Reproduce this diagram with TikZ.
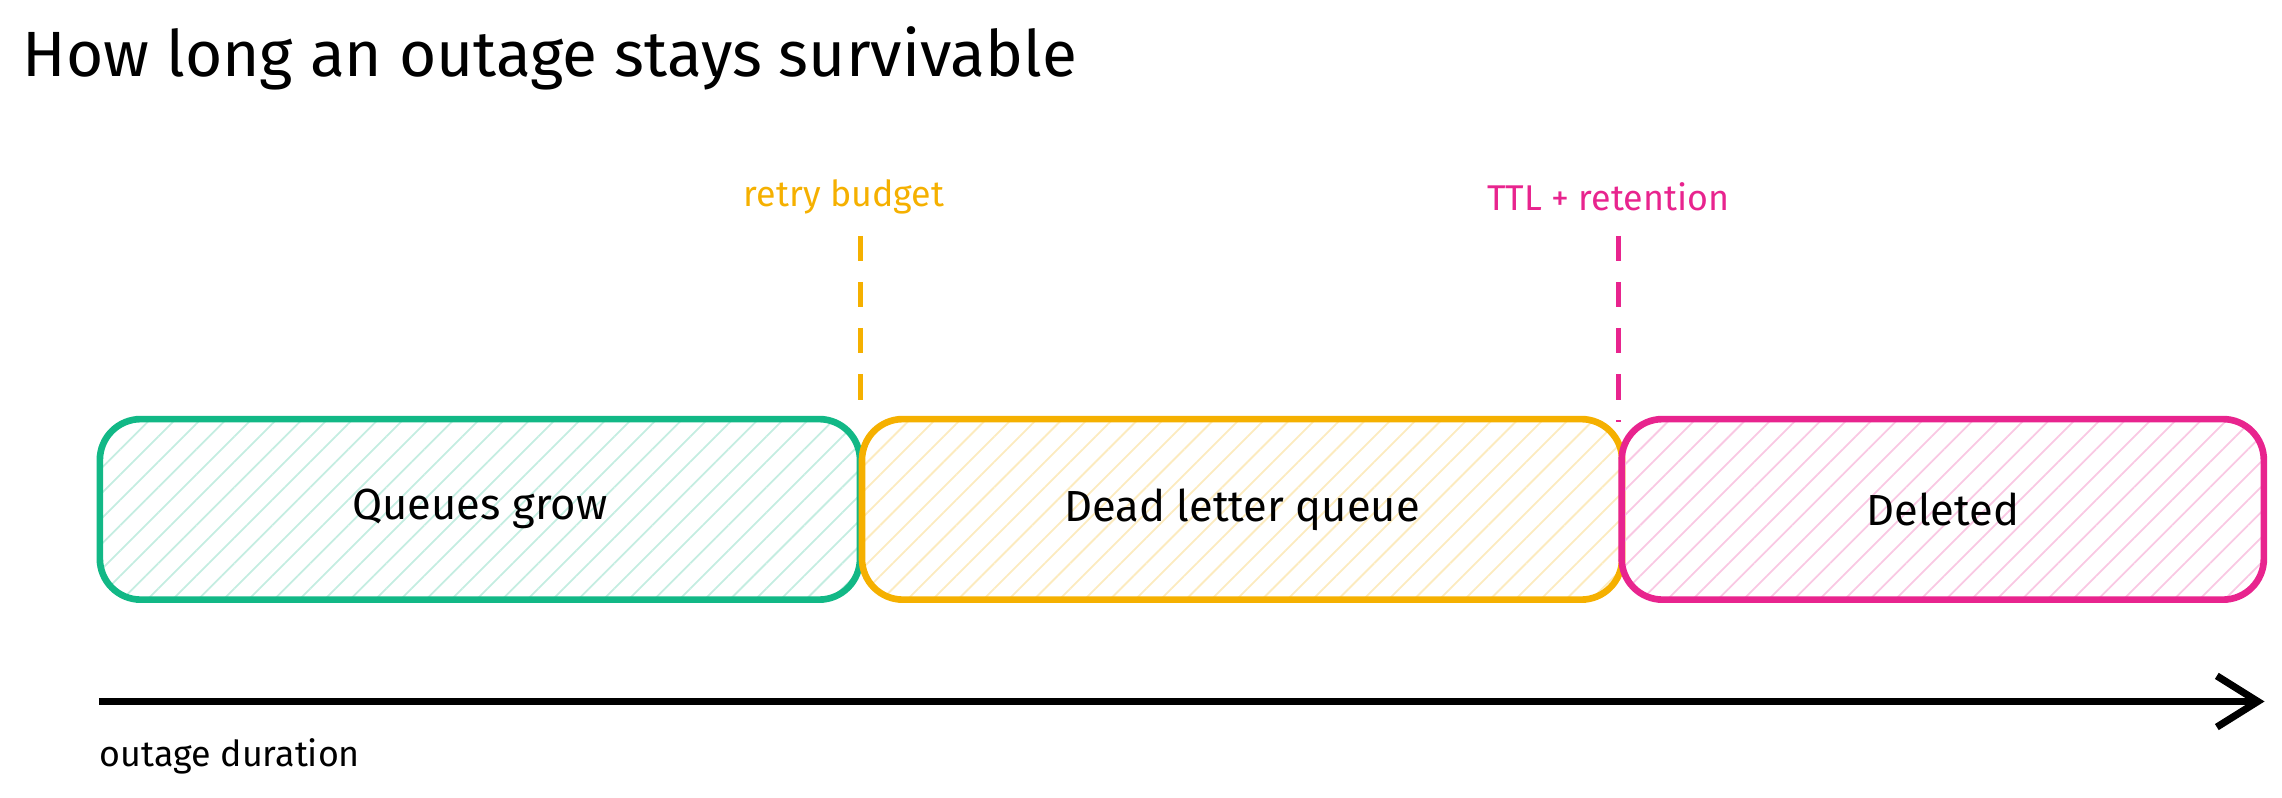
\documentclass[tikz,border=0pt]{standalone}
\usepackage{fontspec}
\setmainfont{Fira Sans}
\usetikzlibrary{positioning,patterns.meta,arrows.meta}
\definecolor{grn}{HTML}{12B886}
\definecolor{org}{HTML}{F5B000}
\definecolor{pnk}{HTML}{E8248E}
\begin{document}
\begin{tikzpicture}[x=0.01cm,y=-0.01cm,
    stage/.style={draw=#1,line width=1.3pt,rounded corners=8pt,minimum height=1.24cm,
      pattern={Lines[angle=45,distance=3.5pt,line width=0.35pt]},pattern color=#1!25,
      font=\fontsize{8.5}{10}\selectfont,anchor=west,inner sep=0pt},
    mark/.style={draw=#1,line width=1pt,dash pattern=on 5pt off 4pt},
    budget/.style={text=#1,font=\fontsize{7}{8}\selectfont}]
  \useasboundingbox (0,0) rectangle (1568,548);
  \node[anchor=west,font=\fontsize{12.5}{15}\selectfont,inner sep=0pt] (title) at (15,40) {How long an outage stays survivable};
  % stages along the timeline
  \node[stage=grn,minimum width=5.22cm] (grow) at (68,350) {Queues grow};
  \node[stage=org,minimum width=5.22cm] (dlq) at (590,350) {Dead letter queue};
  \node[stage=pnk,minimum width=4.41cm] (del) at (1112,350) {Deleted};
  % limits
  \node[budget=org] (retry) at (580,135) {retry budget};
  \node[budget=pnk] (ttl) at (1105,135) {TTL + retention};
  \coordinate (r1) at (591,162); \coordinate (r2) at (591,277);
  \coordinate (t1) at (1112,162); \coordinate (t2) at (1112,290);
  \draw[mark=org] (r1) -- (r2);
  \draw[mark=pnk] (t1) -- (t2);
  % time axis
  \coordinate (a0) at (68,482); \coordinate (a1) at (1556,482);
  \draw[line width=1.4pt,-{Straight Barb[length=8pt,width=10pt]}] (a0) -- (a1);
  \node[anchor=west,font=\fontsize{7}{8}\selectfont,inner sep=0pt] (dur) at (68,520) {outage duration};
\end{tikzpicture}
\end{document}
